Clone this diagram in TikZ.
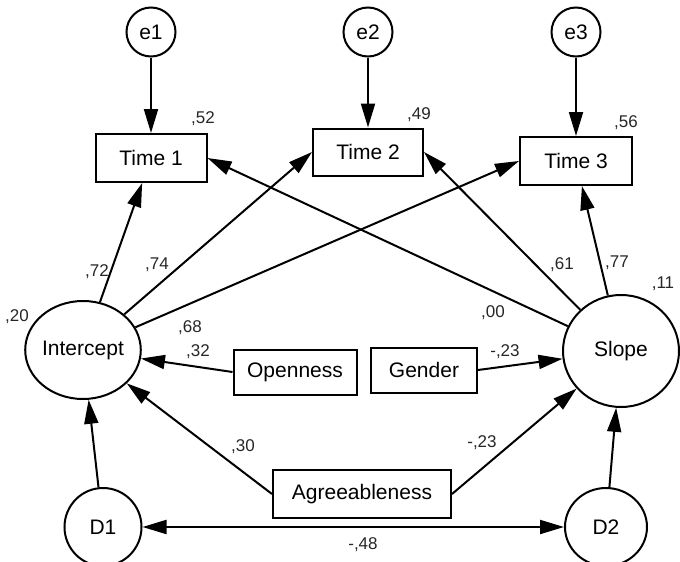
\documentclass[tikz,border=0pt]{standalone}
\usepackage{fontspec}
\setmainfont{Liberation Sans}
\usetikzlibrary{shapes.geometric}
\usetikzlibrary{arrows.meta, positioning}

\begin{document}
\begin{tikzpicture}[x=0.5pt,y=-0.5pt,
    obs/.style={draw, rectangle, line width=1pt, inner sep=0pt,
        font=\fontsize{10.5}{12}\selectfont},
    lat/.style={draw, ellipse, line width=1pt, inner sep=0pt,
        font=\fontsize{10.5}{12}\selectfont},
    coef/.style={inner sep=0pt, text=black!85,
        font=\fontsize{8.5}{10}\selectfont},
    path/.style={-{Triangle[length=12pt,width=7pt]}, line width=1pt},
    cov/.style={{Triangle[length=12pt,width=7pt]}-{Triangle[length=12pt,width=7pt]}, line width=1pt}]
    \useasboundingbox (0,0) rectangle (680,562);

    % errors and measured times
    \node[lat, minimum width=24.5pt, minimum height=24.5pt] (e1) at (151,32) {e1};
    \node[lat, minimum width=24.5pt, minimum height=24.5pt] (e2) at (368,32) {e2};
    \node[lat, minimum width=24.5pt, minimum height=24.5pt] (e3) at (576,32) {e3};
    \node[obs, minimum width=55.5pt, minimum height=24pt] (t1) at (151,158) {Time 1};
    \node[obs, minimum width=55pt, minimum height=23.5pt] (t2) at (368,152) {Time 2};
    \node[obs, minimum width=56pt, minimum height=24pt] (t3) at (576,161) {Time 3};

    % growth factors
    \node[lat, minimum width=55pt, minimum height=49pt] (icpt) at (83,350) {Intercept};
    \node[lat, minimum width=58pt, minimum height=56pt] (slope) at (621,351) {Slope};

    % predictors
    \node[obs, minimum width=61.5pt, minimum height=22.5pt] (open) at (295,372) {Openness};
    \node[obs, minimum width=53pt, minimum height=22.5pt] (gend) at (424,370) {Gender};
    \node[obs, minimum width=89pt, minimum height=24pt] (agree) at (362,494) {Agreeableness};

    % disturbances
    \node[lat, minimum width=38.5pt, minimum height=39pt] (d1) at (103,527) {D1};
    \node[lat, minimum width=41pt, minimum height=39pt] (d2) at (606,527) {D2};

    \draw[path] (e1) -- (t1);
    \draw[path] (e2) -- (t2);
    \draw[path] (e3) -- (t3);
    \draw[path] (icpt) -- (t1);
    \draw[path] (icpt) -- (t2.west);
    \draw[path] (icpt) -- (t3.west);
    \draw[path] (slope) -- (t1.east);
    \draw[path] (slope) -- (t2.east);
    \draw[path] (slope) -- (t3);
    \draw[path] (open.west) -- (icpt);
    \draw[path] (gend.east) -- (slope);
    \draw[path] (agree.west) -- (icpt);
    \draw[path] (agree.east) -- (slope);
    \draw[path] (d1) -- (icpt);
    \draw[path] (d2) -- (slope);
    \draw[cov] (d1) -- (d2);

    % estimates
    \node[coef] (r1) at (203,119) {,52};
    \node[coef] (r2) at (419,115) {,49};
    \node[coef] (r3) at (626,123) {,56};
    \node[coef] (ri) at (17,317) {,20};
    \node[coef] (rs) at (663,284) {,11};
    \node[coef] (li1) at (97,272) {,72};
    \node[coef] (li2) at (157,265) {,74};
    \node[coef] (li3) at (190,328) {,68};
    \node[coef] (ls1) at (493,313) {,00};
    \node[coef] (ls2) at (562,265) {,61};
    \node[coef] (ls3) at (617,263) {,77};
    \node[coef] (bo) at (198,352) {,32};
    \node[coef] (bg) at (505,352) {-,23};
    \node[coef] (bai) at (243,447) {,30};
    \node[coef] (bas) at (482,443) {-,23};
    \node[coef] (cd) at (363,545) {-,48};
\end{tikzpicture}
\end{document}
